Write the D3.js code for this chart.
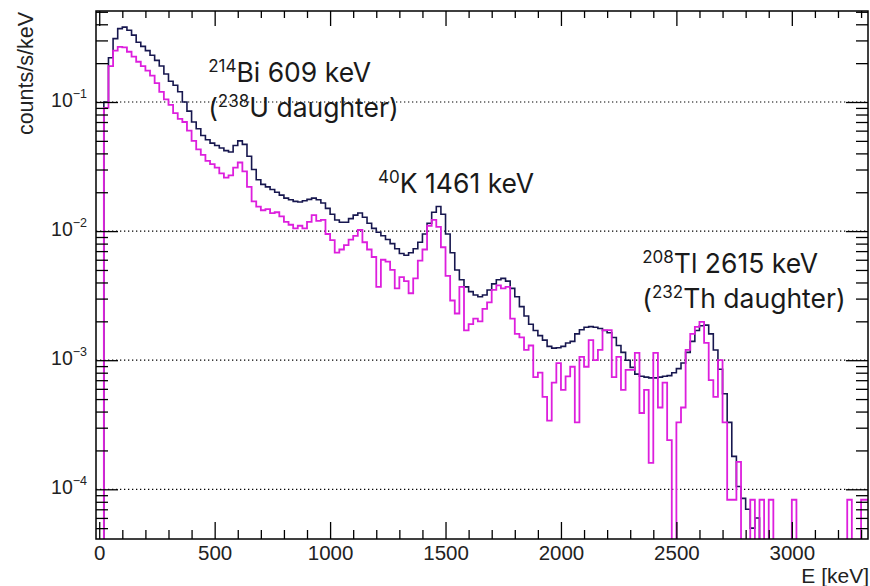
<!DOCTYPE html>
<html>
<head>
<meta charset="utf-8">
<script src="https://cdn.jsdelivr.net/npm/d3@7"></script>
<style>
  body { margin: 0; background: #fff; }
  svg { display: block; }
</style>
</head>
<body>
<svg width="870" height="586"></svg>
<script>
// spectrum, 20 keV bins starting at 0 keV, counts/s/keV
const binWidth = 20;

const navyCounts = [
  0, 0.1, 0.22, 0.31, 0.37, 0.38, 0.36, 0.33, 0.29, 0.27,
  0.25, 0.23, 0.21, 0.19, 0.165, 0.145, 0.135, 0.12, 0.1, 0.085,
  0.07, 0.062, 0.055, 0.051, 0.048, 0.046, 0.044, 0.042, 0.041, 0.046,
  0.05, 0.047, 0.038, 0.03, 0.025, 0.023, 0.022, 0.021, 0.02, 0.019,
  0.018, 0.0175, 0.017, 0.0168, 0.0172, 0.0176, 0.018, 0.0175, 0.0165, 0.015,
  0.0135, 0.0122, 0.0117, 0.0117, 0.0125, 0.0133, 0.0138, 0.0128, 0.0115, 0.0105,
  0.0098, 0.0092, 0.0086, 0.008, 0.0073, 0.0067, 0.0065, 0.0068, 0.0073, 0.0082,
  0.0095, 0.0115, 0.014, 0.0155, 0.0135, 0.0095, 0.0068, 0.005, 0.0042, 0.0037,
  0.0034, 0.0032, 0.0031, 0.0032, 0.0035, 0.0039, 0.0042, 0.0043, 0.0041, 0.0036,
  0.0031, 0.0026, 0.0022, 0.0019, 0.0017, 0.00155, 0.00143, 0.00128, 0.00124, 0.00125,
  0.00128, 0.00136, 0.0014, 0.0016, 0.00172, 0.0018, 0.00182, 0.0018, 0.00176, 0.0017,
  0.00163, 0.0015, 0.0013, 0.00115, 0.001, 0.00088, 0.00078, 0.00075, 0.00074, 0.00073,
  0.00073, 0.00074, 0.00075, 0.00076, 0.0008, 0.00086, 0.00095, 0.00115, 0.0014, 0.0017,
  0.00185, 0.00187, 0.0016, 0.0012, 0.00085, 0.00055, 0.00033, 0.00018, 0.000105, 0.000085,
  0.00007, 0.00005, 0.00006, 0, 0, 0, 0, 0, 0, 0,
  0, 0, 0, 0, 0, 0, 0, 0, 0, 0,
  0, 0, 0, 0, 0, 0, 0
];

const magentaCounts = [
  0, 0.09, 0.19, 0.25, 0.267, 0.265, 0.245, 0.225, 0.205, 0.19,
  0.175, 0.16, 0.14, 0.12, 0.105, 0.095, 0.082, 0.074, 0.07, 0.06,
  0.05, 0.043, 0.039, 0.035, 0.033, 0.031, 0.028, 0.026, 0.027, 0.031,
  0.034, 0.029, 0.022, 0.017, 0.0155, 0.0145, 0.0148, 0.0138, 0.014, 0.013,
  0.0118, 0.0112, 0.0105, 0.011, 0.0105, 0.0118, 0.0133, 0.012, 0.0122, 0.0095,
  0.0085, 0.0068, 0.0072, 0.0078, 0.0086, 0.0092, 0.0102, 0.0082, 0.0072, 0.0063,
  0.0037, 0.006, 0.0058, 0.005, 0.0036, 0.0044, 0.0041, 0.0033, 0.0043, 0.0059,
  0.0072, 0.011, 0.0122, 0.0108, 0.0075, 0.0045, 0.0029, 0.0023, 0.0037, 0.0017,
  0.0019, 0.0021, 0.002, 0.0025, 0.0028, 0.0035, 0.0038, 0.0036, 0.0037, 0.0021,
  0.0016, 0.0015, 0.0012, 0.0013, 0.00074, 0.0008, 0.00052, 0.00034, 0.00067, 0.00095,
  0.00059, 0.00075, 0.00089, 0.00033, 0.00106, 0.00089, 0.00143, 0.001, 0.0012, 0.00171,
  0.00171, 0.00074, 0.00106, 0.00059, 0.00084, 0.00084, 0.00114, 0.00039, 0.00059, 0.00016,
  0.00114, 0.00043, 0.00067, 0.00024, 0, 0.00033, 0.00043, 0.0012, 0.0016, 0.00181,
  0.00198, 0.00136, 0.0007, 0.00052, 0.001, 0.00033, 0.000083, 0.000083, 0.000163, 0,
  0, 0.000083, 0, 0.000083, 0, 0.000083, 0, 0, 0, 0,
  0.000083, 0, 0, 0, 0, 0, 0, 0, 0, 0,
  0, 0, 0.000083, 0, 0, 0.000083, 0.000083
];

const xMajorTicks = [0, 500, 1000, 1500, 2000, 2500, 3000];
const yDecades = [1e-4, 1e-3, 1e-2, 1e-1];
const yDecadeExponents = ["\u22124", "\u22123", "\u22122", "\u22121"];

const peakLabels = [
  [{ pre: "", sup: "214", text: "Bi 609 keV" }, { pre: "(", sup: "238", text: "U daughter)" }],
  [{ pre: "", sup: "40", text: "K 1461 keV" }],
  [{ pre: "", sup: "208", text: "Tl 2615 keV" }, { pre: "(", sup: "232", text: "Th daughter)" }]
];

// ---------------------------------------------------------------

let frame = { left: 96, right: 868, top: 11, bottom: 539 };
let svg = d3.select("svg");

let xScale = d3.scaleLinear()
  .domain([-14, 3330])
  .range([frame.left, frame.right]);

let yScale = d3.scaleLog()
  .domain([4.12e-5, 0.507])
  .range([frame.bottom, frame.top]);

svg.append("defs").append("clipPath").attr("id", "plotclip")
  .append("rect")
  .attr("x", frame.left).attr("y", frame.top)
  .attr("width", frame.right - frame.left)
  .attr("height", frame.bottom - frame.top);

// dotted grid on decades
svg.append("g").selectAll("line")
  .data(yDecades)
  .enter().append("line")
  .attr("x1", frame.left).attr("x2", frame.right)
  .attr("y1", d => yScale(d)).attr("y2", d => yScale(d))
  .attr("stroke", "#000")
  .attr("stroke-width", 1.2)
  .attr("stroke-dasharray", "1.3,2.7");

function stepPath(counts) {
  let pts = [];
  counts.forEach((c, i) => {
    let y = c > 0 ? yScale(c) : frame.bottom + 3;
    pts.push([xScale(i * binWidth), y]);
    pts.push([xScale((i + 1) * binWidth), y]);
  });
  return d3.line()(pts);
}

let hists = svg.append("g").attr("clip-path", "url(#plotclip)");

hists.append("path")
  .attr("d", stepPath(navyCounts))
  .attr("fill", "none")
  .attr("stroke", "#17174f")
  .attr("stroke-width", 1.6);

hists.append("path")
  .attr("d", stepPath(magentaCounts))
  .attr("fill", "none")
  .attr("stroke", "#dd1fdd")
  .attr("stroke-width", 1.8);

// ---- axes (ROOT style: ticks inside, on all four sides)
let xMinor = d3.range(0, 3330, 100).filter(d => d % 500 != 0);
let yMinor = [];
[-5, -4, -3, -2, -1].forEach(k => {
  for (let m = 2; m <= 9; m++) {
    let v = m * Math.pow(10, k);
    if (v > 4.12e-5 && v < 0.507) yMinor.push(v);
  }
});

function cleanAxis(g) {
  g.select(".domain").remove();
  g.selectAll(".tick line").attr("stroke", "#000").attr("stroke-width", 1.3);
}

svg.append("g")
  .attr("transform", `translate(0,${frame.bottom})`)
  .call(d3.axisBottom(xScale).tickValues(xMinor).tickSize(-9).tickFormat(""))
  .call(cleanAxis);

let xMajorAxis = svg.append("g")
  .attr("transform", `translate(0,${frame.bottom})`)
  .call(d3.axisBottom(xScale).tickValues(xMajorTicks).tickSize(-17).tickPadding(6).tickFormat(d3.format("d")))
  .call(cleanAxis);

xMajorAxis.selectAll(".tick text")
  .attr("font-family", "'Liberation Sans', Arial, sans-serif")
  .attr("font-size", 20.5)
  .attr("fill", "#222");

svg.append("g")
  .attr("transform", `translate(0,${frame.top})`)
  .call(d3.axisTop(xScale).tickValues(xMinor).tickSize(-7).tickFormat(""))
  .call(cleanAxis);

svg.append("g")
  .attr("transform", `translate(0,${frame.top})`)
  .call(d3.axisTop(xScale).tickValues(xMajorTicks).tickSize(-15).tickFormat(""))
  .call(cleanAxis);

svg.append("g")
  .attr("transform", `translate(${frame.left},0)`)
  .call(d3.axisLeft(yScale).tickValues(yMinor).tickSize(-12).tickFormat(""))
  .call(cleanAxis);

let yMajorAxis = svg.append("g")
  .attr("transform", `translate(${frame.left},0)`)
  .call(d3.axisLeft(yScale).tickValues(yDecades).tickSize(-22).tickPadding(9).tickFormat(""))
  .call(cleanAxis);

svg.append("g")
  .attr("transform", `translate(${frame.right},0)`)
  .call(d3.axisRight(yScale).tickValues(yMinor).tickSize(-12).tickFormat(""))
  .call(cleanAxis);

svg.append("g")
  .attr("transform", `translate(${frame.right},0)`)
  .call(d3.axisRight(yScale).tickValues(yDecades).tickSize(-22).tickFormat(""))
  .call(cleanAxis);

// 10^n labels with real superscripts
yMajorAxis.selectAll(".tick text").each(function (d, i) {
  let t = d3.select(this)
    .attr("font-family", "'Liberation Sans', Arial, sans-serif")
    .attr("fill", "#222")
    .attr("x", -9)
    .attr("dy", "0.4em")
    .attr("text-anchor", "end");
  t.append("tspan").attr("font-size", 19.5).text("10");
  t.append("tspan").attr("font-size", 12.5).attr("dy", -9).text(yDecadeExponents[i]);
});

// frame
svg.append("rect")
  .attr("x", frame.left).attr("y", frame.top)
  .attr("width", frame.right - frame.left)
  .attr("height", frame.bottom - frame.top)
  .attr("fill", "none")
  .attr("stroke", "#000")
  .attr("stroke-width", 1.5);

// axis titles
svg.append("text")
  .attr("transform", `translate(33,${frame.top + 1}) rotate(-90)`)
  .attr("text-anchor", "end")
  .attr("font-family", "'Liberation Sans', Arial, sans-serif")
  .attr("font-size", 21.5)
  .attr("fill", "#222")
  .text("counts/s/keV");

svg.append("text")
  .attr("x", 869).attr("y", 583)
  .attr("text-anchor", "end")
  .attr("font-family", "'Liberation Sans', Arial, sans-serif")
  .attr("font-size", 21)
  .attr("fill", "#222")
  .text("E [keV]");

// peak annotations, anchored in data coordinates (E, counts/s/keV)
let labelAnchors = [[472, 0.143], [1208, 0.0197], [2352, 0.00474]];
let lineGap = 35;

peakLabels.forEach((lines, k) => {
  let x0 = xScale(labelAnchors[k][0]);
  let y0 = yScale(labelAnchors[k][1]);
  lines.forEach((ln, j) => {
    let t = svg.append("text")
      .attr("x", x0).attr("y", y0 + j * lineGap)
      .attr("font-family", "Inter, Lato, sans-serif")
      .attr("font-size", 26.5)
      .attr("fill", "#1a1a1a");
    if (ln.pre) t.append("tspan").text(ln.pre);
    t.append("tspan").attr("font-size", 17).attr("dy", -10).text(ln.sup);
    t.append("tspan").attr("dy", 10).text(ln.text);
  });
});
</script>
</body>
</html>
